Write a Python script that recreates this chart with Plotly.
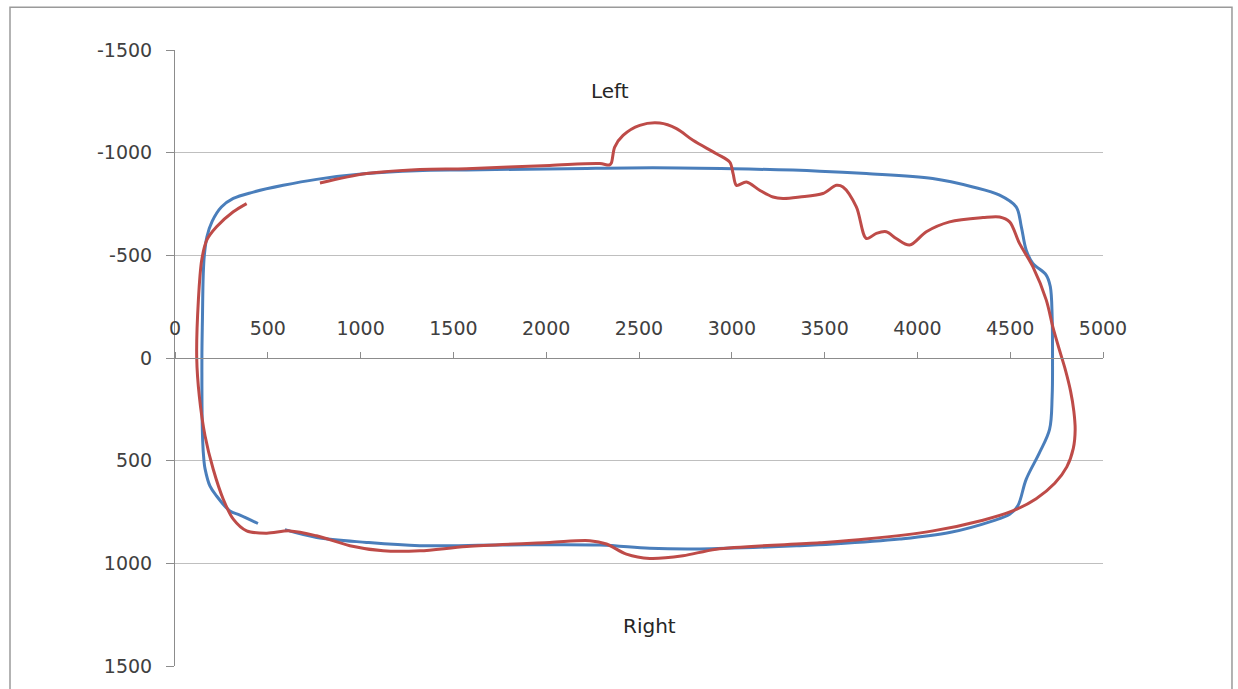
import plotly.graph_objects as go

# Blue series (reference outline)
blue_x = [447, 350, 296, 224, 188, 162, 156, 149, 145, 148, 152, 158, 172, 200, 250, 314, 422, 583, 763,
          1032, 1300, 1571, 2110, 2575, 3006, 3473, 3725, 4082, 4299, 4443, 4532, 4560, 4586, 4622, 4694,
          4716, 4726, 4728, 4726, 4712, 4658, 4586, 4541, 4497, 4407, 4173, 3904, 3545, 3366, 2827, 2558,
          2289, 1750, 1319, 1032, 763, 592]
blue_y = [806, 765, 745, 672, 623, 540, 500, 400, 0, -200, -400, -500, -590, -665, -735, -777, -808, -841,
          -870, -898, -912, -916, -922, -927, -922, -910, -898, -874, -833, -793, -736, -639, -526, -461,
          -404, -348, -200, 0, 186, 348, 461, 591, 720, 761, 793, 850, 882, 906, 914, 930, 927, 911, 911,
          914, 898, 874, 836]

# Red series (measured outline)
red_x = [781, 1032, 1319, 1571, 2019, 2289, 2340, 2351, 2369, 2414, 2504, 2612, 2702, 2791, 2917, 2989,
         3007, 3025, 3079, 3150, 3222, 3276, 3366, 3491, 3563, 3599, 3671, 3725, 3779, 3832, 3886, 3958,
         4048, 4173, 4353, 4443, 4497, 4550, 4622, 4694, 4730, 4765, 4798, 4825, 4843, 4850, 4840, 4805,
         4740, 4640, 4513, 4353, 4084, 3725, 3473, 2917, 2737, 2558, 2432, 2325, 2235, 2019, 1571, 1319,
         1122, 942, 763, 619, 494, 386, 314, 260, 206, 162, 131, 117, 126, 144, 171, 224, 314, 386]
red_y = [-852, -898, -918, -922, -938, -947, -940, -950, -1027, -1084, -1133, -1144, -1117, -1060, -995,
         -954, -898, -841, -857, -817, -784, -777, -784, -801, -841, -833, -736, -582, -607, -615, -582,
         -550, -615, -663, -684, -687, -663, -558, -445, -283, -150, -40, 60, 160, 260, 350, 440, 530,
         610, 685, 745, 790, 842, 882, 900, 931, 963, 976, 955, 906, 890, 898, 918, 939, 939, 914, 866,
         842, 853, 842, 785, 688, 542, 380, 186, 0, -283, -477, -574, -639, -712, -752]

y_ticks = [-1500, -1000, -500, 0, 500, 1000, 1500]
x_ticks = [0, 500, 1000, 1500, 2000, 2500, 3000, 3500, 4000, 4500, 5000]
x_tick_text = [str(v) for v in x_ticks]
y_tick_text = [str(v) for v in y_ticks]

labels = ["Left", "Right", "Front"]
label_x = [2342, 2558, 5293]
label_y = [-1302, 1303, -370]

FONT = "DejaVu Sans"
TXT = "#404040"

fig = go.Figure()
fig.add_trace(go.Scatter(x=blue_x, y=blue_y, mode="lines",
                         line=dict(color="#4A7EBB", width=3, shape="spline", smoothing=1.0),
                         name="Series1", showlegend=False))
fig.add_trace(go.Scatter(x=red_x, y=red_y, mode="lines",
                         line=dict(color="#BE4B48", width=3, shape="spline", smoothing=0.9),
                         name="Series2", showlegend=False))

for t, x, y in zip(labels, label_x, label_y):
    fig.add_annotation(x=x, y=y, xref="x", yref="y", text=t, showarrow=False,
                       font=dict(family=FONT, size=20, color="#262626"))

# chart outer border
fig.add_shape(type="rect", xref="paper", yref="paper",
              x0=-0.1778, x1=1.139, y0=-0.06, y1=1.0696,
              line=dict(color="#9a9a9a", width=1.5), fillcolor="rgba(0,0,0,0)", layer="below")

fig.update_layout(
    width=1238, height=689,
    margin=dict(l=175, r=135, t=50, b=21),
    paper_bgcolor="white", plot_bgcolor="white",
    font=dict(family=FONT, size=19, color=TXT),
    xaxis=dict(range=[0, 5000], tickvals=x_ticks, ticktext=x_tick_text,
               anchor="free", position=0.5, side="top",
               showline=True, linecolor="#8c8c8c", linewidth=1,
               ticks="outside", ticklen=6, tickcolor="#8c8c8c",
               ticklabelstandoff=9,
               showgrid=False, zeroline=False),
    yaxis=dict(range=[1500, -1500], tickvals=y_ticks, ticktext=y_tick_text,
               showline=True, linecolor="#8c8c8c", linewidth=1,
               ticks="outside", ticklen=8, tickcolor="#8c8c8c",
               ticklabelstandoff=10,
               showgrid=True, gridcolor="#bfbfbf", gridwidth=1, zeroline=False),
)

fig.write_html("out.html", config={"displayModeBar": False},
               post_script="document.body.style.margin='0';document.body.style.overflow='hidden';")
